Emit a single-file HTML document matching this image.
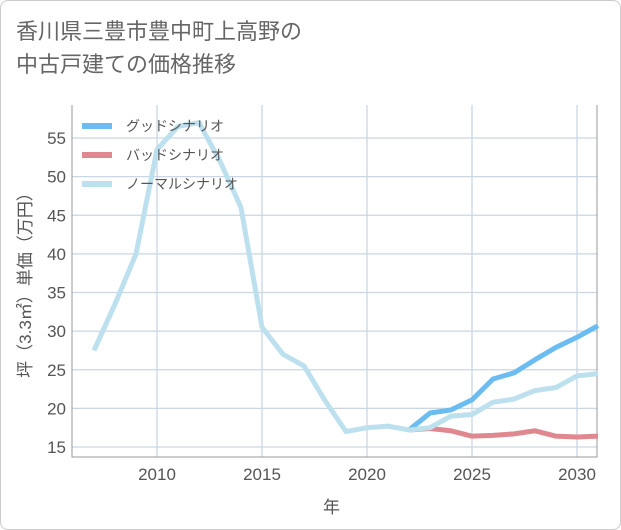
<!DOCTYPE html>
<html><head><meta charset="utf-8"><style>
body{margin:0;background:#fff;font-family:"Liberation Sans","Noto Sans CJK JP",sans-serif}
#card{position:absolute;left:0;top:0;width:619px;height:528px;border:1px solid #ccc;border-radius:8px;background:#fff}
#title{position:absolute;left:16px;top:15px;font-size:22px;line-height:33px;color:#666;font-family:"Liberation Sans","Noto Sans CJK JP",sans-serif}
</style></head><body>
<div id="card"></div>
<div id="title">香川県三豊市豊中町上高野の<br>中古戸建ての価格推移</div>
<svg id="chart" width="621" height="530" style="position:absolute;left:0;top:0"></svg>
<script>
const years=[2007,2008,2009,2010,2011,2012,2013,2014,2015,2016,2017,2018,2019,2020,2021,2022,2023,2024,2025,2026,2027,2028,2029,2030,2031];
const normal=[27.5,33.5,40,53.5,56.5,57,52,46,30.5,27,25.5,21,17,17.5,17.7,17.2,17.5,19,19.2,20.8,21.2,22.3,22.7,24.2,24.5];
const goodYears=[2022,2023,2024,2025,2026,2027,2028,2029,2030,2031];
const good=[17.2,19.4,19.8,21.1,23.8,24.6,26.3,27.9,29.2,30.7];
const bad=[17.2,17.4,17.1,16.4,16.5,16.7,17.1,16.4,16.3,16.4];
const yTicks=[15,20,25,30,35,40,45,50,55];
const xTicks=[2010,2015,2020,2025,2030];
const L=72,R=597,T=105,B=457;
const x=v=>157+(v-2010)*21;
const y=v=>447-(v-15)*7.725;
const svg=document.getElementById('chart');
const NS='http://www.w3.org/2000/svg';
function mk(t,a){const e=document.createElementNS(NS,t);for(const k in a)e.setAttribute(k,a[k]);svg.appendChild(e);return e;}
yTicks.forEach(v=>{
 const g=mk('line',{x1:L,x2:R,y1:y(v),y2:y(v),stroke:'#c9d6e3','stroke-width':1.3});
 
 
 const t=mk('text',{x:L-6,y:y(v)+6,'text-anchor':'end','font-size':17,fill:'#555'});t.textContent=v;
 
 
});
xTicks.forEach(v=>{
 const g=mk('line',{x1:x(v),x2:x(v),y1:T,y2:B,stroke:'#c9d6e3','stroke-width':1.3});
 
 
 const t=mk('text',{x:x(v),y:B+23,'text-anchor':'middle','font-size':17,fill:'#555'});t.textContent=v;
 
 
});
const ax=mk('path',{d:`M${L} ${T}V${B}H${R}V${T}`,fill:'none',stroke:'#999','stroke-width':1});


function line(xs,vals,color,name){
 const p=mk('polyline',{points:vals.map((v,i)=>x(xs[i])+','+y(v)).join(' '),fill:'none',stroke:color,'stroke-width':5,'stroke-linejoin':'round'});
 
 
}
line(goodYears,bad,'#e0888f','bad-scenario-line');
line(goodYears,good,'#6bbcf0','good-scenario-line');
line(years,normal,'#bde0ee','normal-scenario-line');
const leg=[['グッドシナリオ','#6bbcf0'],['バッドシナリオ','#e0888f'],['ノーマルシナリオ','#bde0ee']];
leg.forEach((l,i)=>{
 const yy=126+i*29;
 const s=mk('line',{x1:82,x2:112,y1:yy,y2:yy,stroke:l[1],'stroke-width':6});
 
 
 const t=mk('text',{x:126,y:yy+5,'font-size':14,fill:'#555'});t.textContent=l[0];
 
 
});
const yt=mk('text',{x:0,y:0,'font-size':17,fill:'#555','text-anchor':'middle',transform:`translate(31,${(T+B)/2}) rotate(-90)`});
yt.textContent='坪（3.3㎡）単価（万円）';


const xt=mk('text',{x:(L+R)/2-3,y:513,'font-size':17,fill:'#555','text-anchor':'middle'});
xt.textContent='年';


</script>
</body></html>
